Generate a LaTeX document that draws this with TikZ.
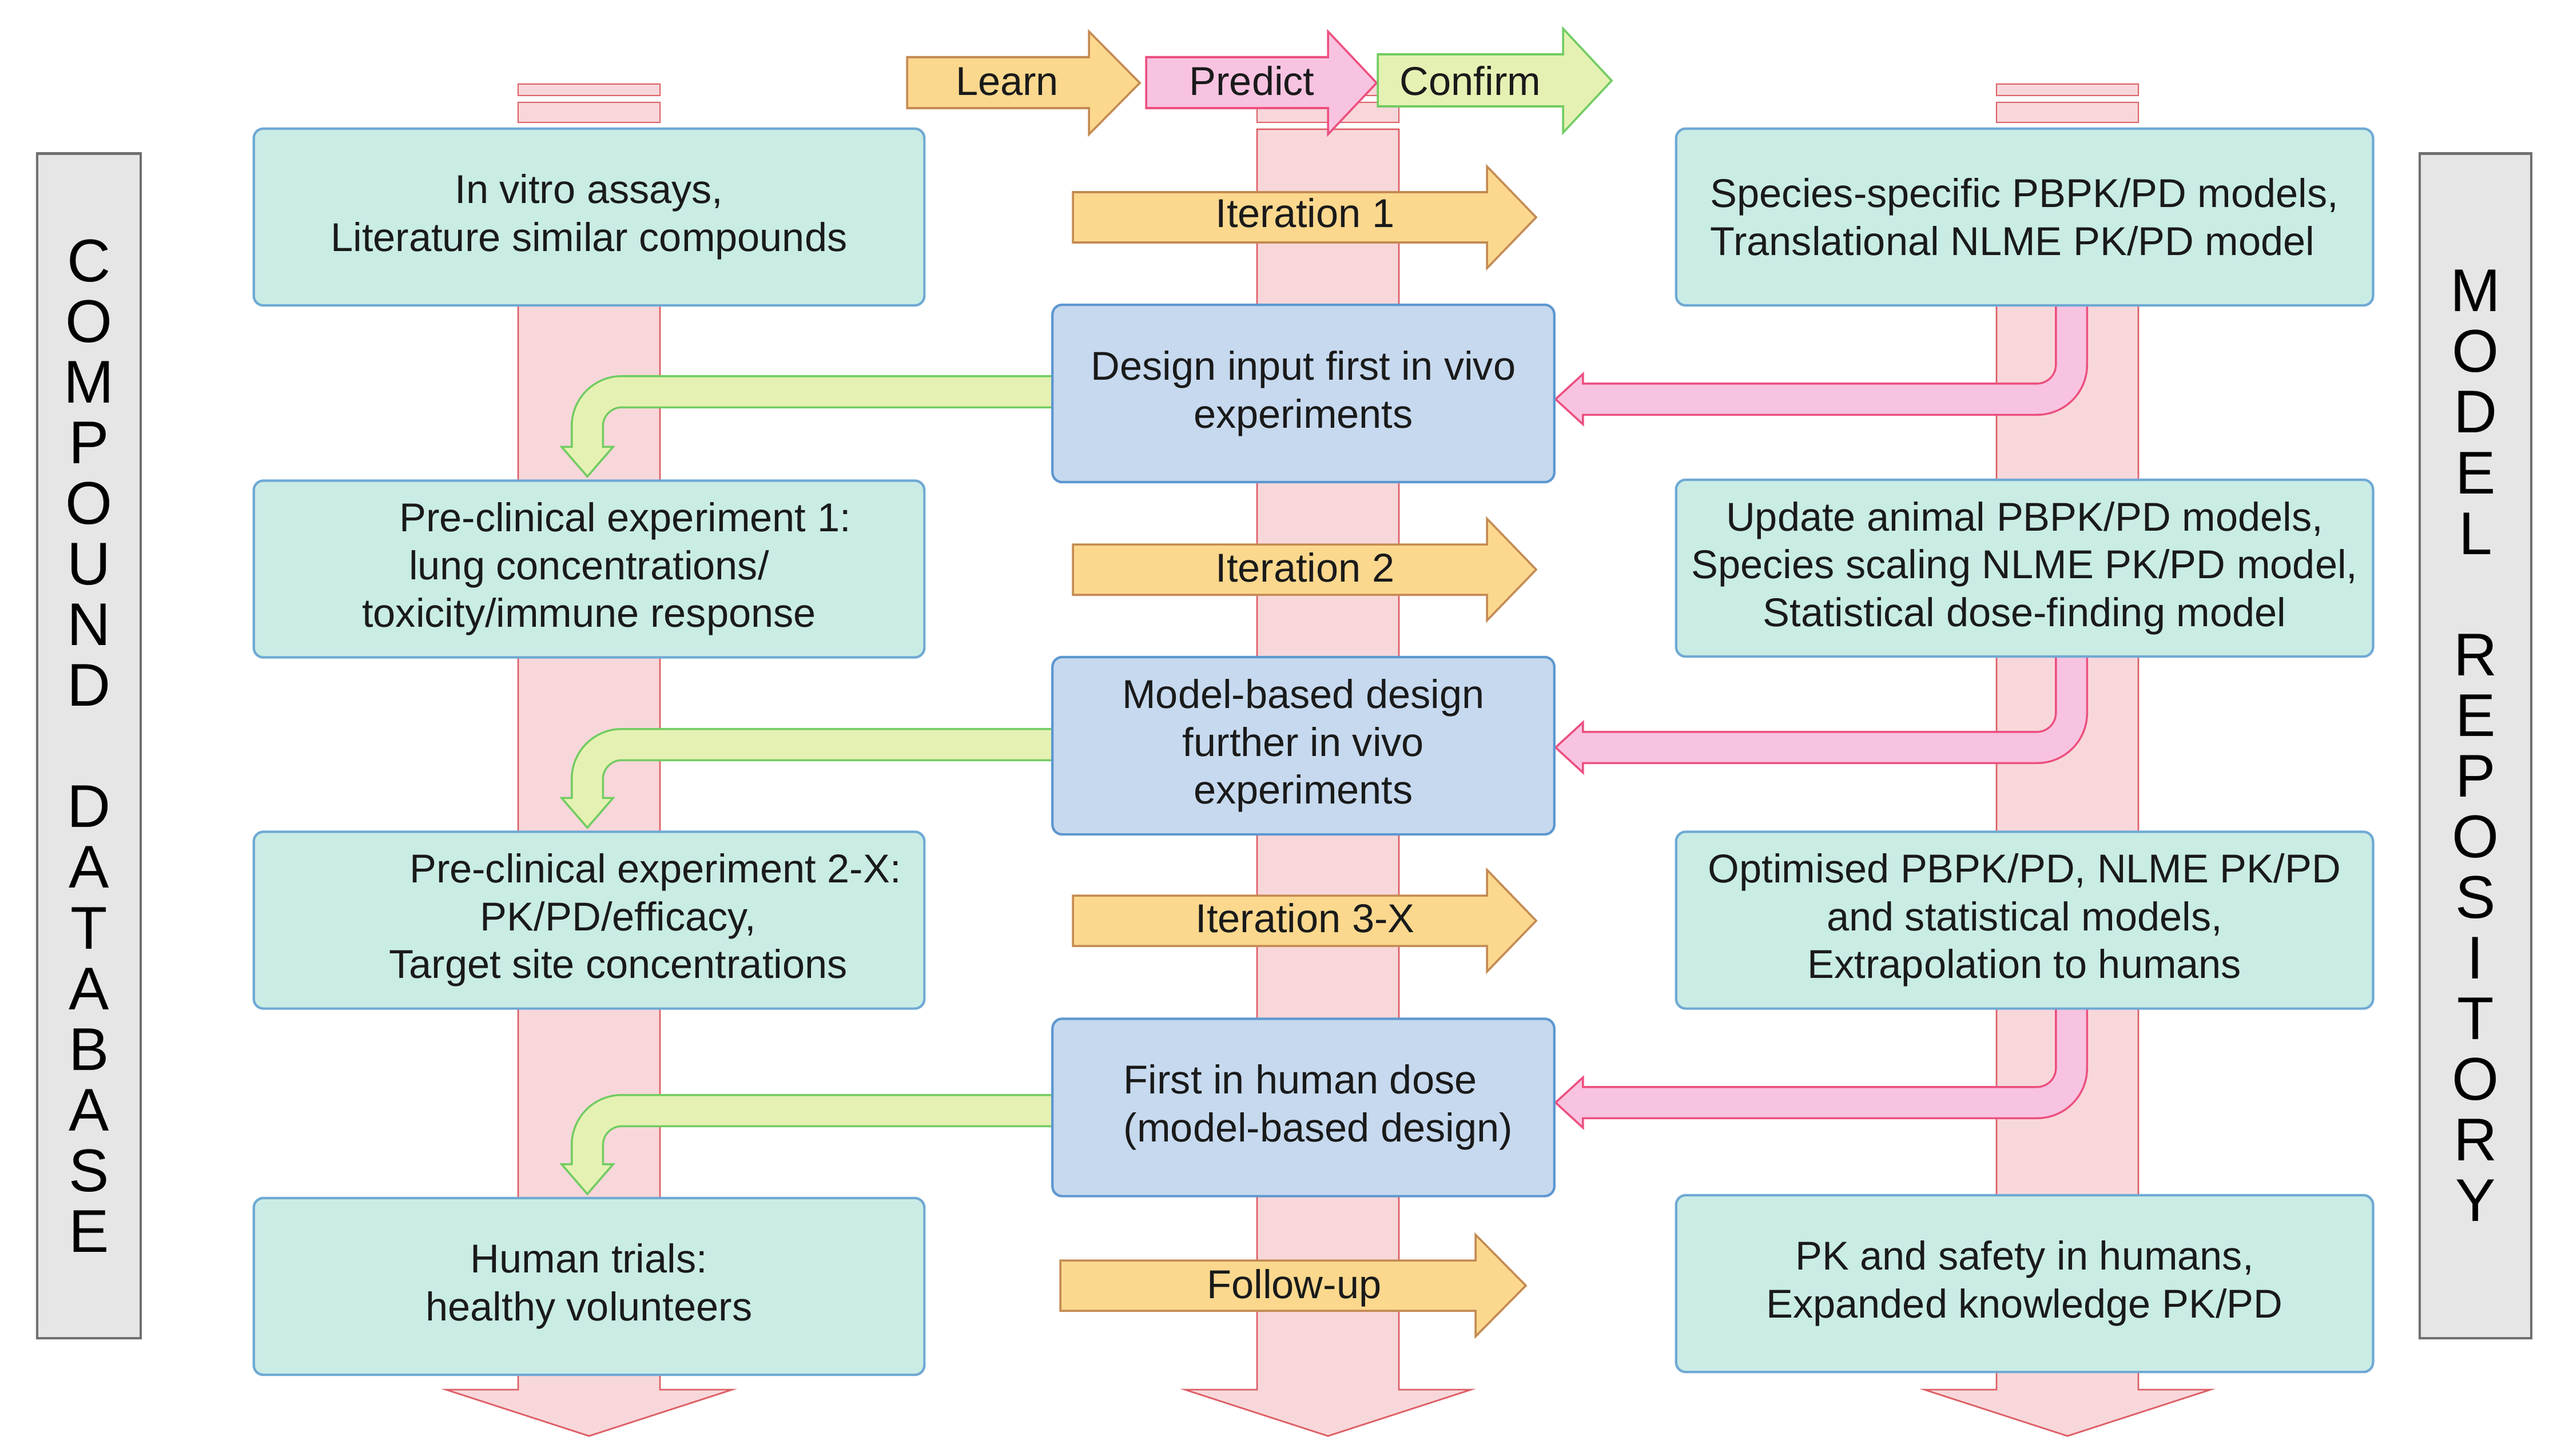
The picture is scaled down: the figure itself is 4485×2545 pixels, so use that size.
\documentclass[tikz,border=0pt]{standalone}
\usepackage{fontspec}
\setmainfont{Liberation Sans}
\usetikzlibrary{calc}
\pgfdeclarelayer{bg}
\pgfsetlayers{bg,main}
\definecolor{tealfill}{HTML}{C9ECE5}
\definecolor{tealdraw}{HTML}{6FA9D4}
\definecolor{bluefill}{HTML}{C6D9EE}
\definecolor{bluedraw}{HTML}{5E97D0}
\definecolor{grayfill}{HTML}{E6E6E6}
\definecolor{graydraw}{HTML}{707070}
\definecolor{bandfill}{HTML}{F8D7DA}
\definecolor{banddraw}{HTML}{DD5F66}
\definecolor{yelfill}{HTML}{FCD88E}
\definecolor{yeldraw}{HTML}{C48A52}
\definecolor{pinkfill}{HTML}{F8C3E0}
\definecolor{pinkdraw}{HTML}{EC5080}
\definecolor{grnfill}{HTML}{E5F1B3}
\definecolor{grndraw}{HTML}{72CC62}
\definecolor{txt}{HTML}{1A1A1A}
\newcommand\bxfont{\fontsize{20pt}{23.8pt}\selectfont}
\newcommand\ltfont{\fontsize{30pt}{1.06cm}\selectfont}
\newcommand\lbfont{\fontsize{20pt}{24pt}\selectfont}
\begin{document}
\begin{tikzpicture}[x=0.01cm,y=-0.01cm,
  tbox/.style={draw=tealdraw, fill=tealfill, line width=1.2pt, rounded corners=0.17cm,
    minimum width=11.72cm, minimum height=3.09cm, inner sep=0pt, align=center,
    font=\bxfont, text=txt},
  mbox/.style={tbox, draw=bluedraw, fill=bluefill, minimum width=8.77cm, minimum height=3.10cm},
  rbox/.style={tbox, minimum width=12.18cm},
  gbox/.style={draw=graydraw, fill=grayfill, line width=1.2pt, inner sep=0pt,
    align=center, font=\ltfont, text=black},
  lbl/.style={font=\lbfont, text=txt, inner sep=0pt, anchor=base},
  band/.style={fill=bandfill, draw=banddraw, line width=0.8pt, line join=miter},
  blockY/.style={fill=yelfill, draw=yeldraw, line width=1pt, line join=miter},
  blockP/.style={fill=pinkfill, draw=pinkdraw, line width=1pt, line join=miter},
  blockG/.style={fill=grnfill, draw=grndraw, line width=1pt, line join=miter},
  gout/.style={draw=grndraw, line width=16.5pt, rounded corners=0.6cm},
  gin/.style={draw=grnfill, line width=14.5pt, rounded corners=0.6cm},
  pout/.style={draw=pinkdraw, line width=16.5pt, rounded corners=0.6cm},
  pin/.style={draw=pinkfill, line width=14.5pt, rounded corners=0.6cm}
]
\useasboundingbox (0,0) rectangle (4485,2545);

% ---------- gray side boxes ----------
\node[gbox, minimum width=1.81cm, minimum height=20.70cm] (G1) at (155.5,1304)
  {C\\O\\M\\P\\O\\U\\N\\D\\[1.06cm]D\\A\\T\\A\\B\\A\\S\\E};
\node[gbox, minimum width=1.95cm, minimum height=20.70cm] (G2) at (4328.5,1304)
  {M\\O\\D\\E\\L\\[1.06cm]R\\E\\P\\O\\S\\I\\T\\O\\R\\Y};

% ---------- left column ----------
\node[tbox] (L1) at (1030,379.5) {In vitro assays,\\Literature similar compounds};
\node[tbox] (L2) at (1030,995) {\hspace*{1.26cm}Pre-clinical experiment 1:\\lung concentrations/\\toxicity/immune response};
\node[tbox] (L3) at (1030,1609) {\hspace*{2.32cm}Pre-clinical experiment 2-X:\\\hspace*{1.02cm}PK/PD/efficacy,\\\hspace*{1.02cm}Target site concentrations};
\node[tbox] (L4) at (1030,2249.5) {Human trials:\\healthy volunteers};

% ---------- middle column ----------
\node[mbox] (M1) at (2279,688) {Design input first in vivo\\experiments};
\node[mbox] (M2) at (2279,1304) {Model-based design\\further in vivo\\experiments};
\node[mbox, align=left] (M3) at (2279,1936.5) {\hspace*{0.52cm}First in human dose\\\hspace*{0.52cm}(model-based design)};

% ---------- right column ----------
\node[rbox, align=left] (R1) at (3540,379.5) {Species-specific PBPK/PD models,\\Translational NLME PK/PD model};
\node[rbox] (R2) at (3540,993.5) {Update animal PBPK/PD models,\\Species scaling NLME PK/PD model,\\Statistical dose-finding model};
\node[rbox] (R3) at (3540,1609) {Optimised PBPK/PD, NLME PK/PD\\and statistical models,\\Extrapolation to humans};
\node[rbox] (R4) at (3540,2244.5) {PK and safety in humans,\\Expanded knowledge PK/PD};

% ---------- arrow labels ----------
\node[lbl] (tLearn) at (1761,166) {Learn};
\node[lbl] (tPredict) at (2189,166) {Predict};
\node[lbl] (tConfirm) at (2571,166) {Confirm};
\node[lbl] (tIt1) at (2282,397) {Iteration 1};
\node[lbl] (tIt2) at (2282,1017) {Iteration 2};
\node[lbl] (tIt3) at (2282,1630) {Iteration 3-X};
\node[lbl] (tFol) at (2263,2270) {Follow-up};

\begin{pgfonlayer}{bg}
% ---------- pink bands (striped block arrows) ----------
\foreach \cx in {1030,2322,3615}{
  \path[band] (\cx-124,147) rectangle (\cx+124,167);
  \path[band] (\cx-124,179) rectangle (\cx+124,214);
  \path[band] (\cx-124,226) -- (\cx+124,226) -- (\cx+124,2430) -- (\cx+250,2430)
     -- (\cx,2511) -- (\cx-250,2430) -- (\cx-124,2430) -- cycle;
}
% ---------- Learn / Predict / Confirm ----------
\path[blockY] (1586,100) -- (1904,100) -- (1904,55) -- (1993,145) -- (1904,235) -- (1904,189) -- (1586,189) -- cycle;
\path[blockP] (2004,100) -- (2322,100) -- (2322,55) -- (2407,145) -- (2322,235) -- (2322,189) -- (2004,189) -- cycle;
\path[blockG] (2409,95) -- (2733,95) -- (2733,50) -- (2818,141) -- (2733,232) -- (2733,186) -- (2409,186) -- cycle;
% ---------- iteration arrows ----------
\foreach \c in {380,996,1610}{
  \path[blockY] (1876,\c-44) -- (2600,\c-44) -- (2600,\c-89) -- (2686,\c) -- (2600,\c+89)
     -- (2600,\c+44) -- (1876,\c+44) -- cycle;
}
\path[blockY] (1854,2204) -- (2580,2204) -- (2580,2159) -- (2668,2248) -- (2580,2337)
   -- (2580,2292) -- (1854,2292) -- cycle;

% ---------- green turning arrows (middle -> left) ----------
\foreach \m/\l/\dy in {M1/L2/-3, M2/L3/-2, M3/L4/5.5}{
  \coordinate (gs) at ($(\m.west)+(10,\dy)$);
  \coordinate (gt) at ($(\l.north)+(-3,-5)$);
  \coordinate (gb) at ($(gt)+(0,-52)$);
  \draw[gout] (gs) -| (gb);
  \path[blockG] ($(gb)+(-45,0)$) -- (gt) -- ($(gb)+(45,0)$) -- cycle;
  \draw[gin] (gs) -| ($(gb)+(0,4)$);
}
% ---------- pink return arrows (right -> middle) ----------
\foreach \r/\m/\dy in {R1/M1/10, R2/M2/3, R3/M3/-8.5}{
  \coordinate (ps) at ($(\r.south)+(82,-10)$);
  \coordinate (pt) at ($(\m.east)+(0,\dy)$);
  \coordinate (pb) at ($(pt)+(48,0)$);
  \draw[pout] (ps) |- (pb);
  \path[blockP] ($(pb)+(0,-44)$) -- (pt) -- ($(pb)+(0,44)$) -- cycle;
  \draw[pin] (ps) |- ($(pb)+(-4,0)$);
}
\end{pgfonlayer}
\end{tikzpicture}
\end{document}
